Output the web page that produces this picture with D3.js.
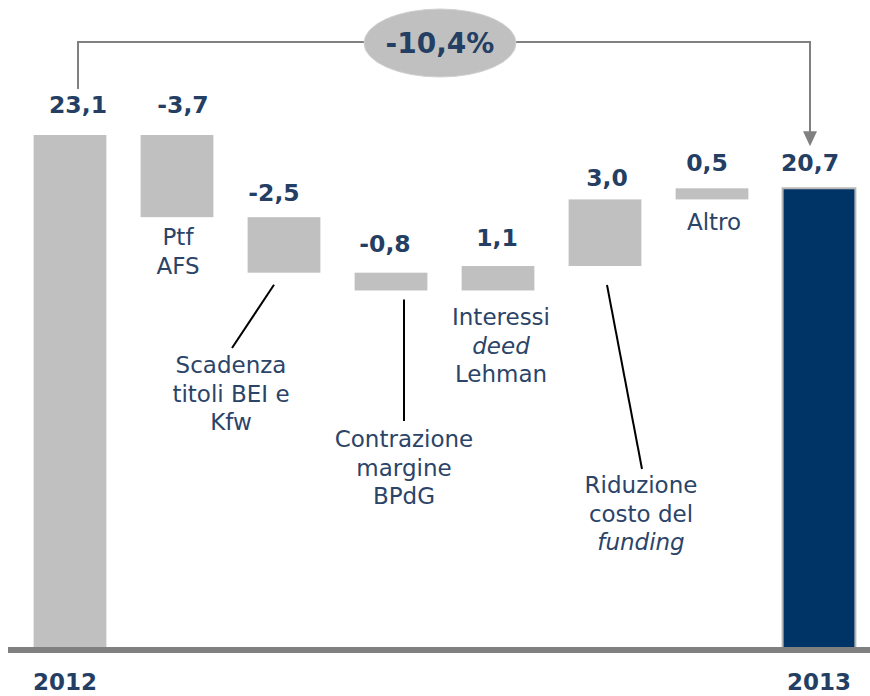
<!DOCTYPE html>
<html>
<head>
<meta charset="utf-8">
<script src="https://cdn.jsdelivr.net/npm/d3@7"></script>
<style>
  html, body { margin: 0; padding: 0; background: #fff; }
  svg { display: block; }
  text { font-family: "DejaVu Sans", Verdana, sans-serif; }
</style>
</head>
<body>
<svg id="chart" width="870" height="696"></svg>
<script>
// ---- data ----
const categories = ["2012", "Ptf AFS", "Scadenza titoli BEI e Kfw", "Contrazione margine BPdG",
                    "Interessi deed Lehman", "Riduzione costo del funding", "Altro", "2013"];
const deltas = [23.1, -3.7, -2.5, -0.8, 1.1, 3.0, 0.5, 20.7];
const kinds = ["total", "delta", "delta", "delta", "delta", "delta", "delta", "total"];
const valueLabels = ["23,1", "-3,7", "-2,5", "-0,8", "1,1", "3,0", "0,5", "20,7"];
const changeLabel = "-10,4%";
// category label lines: [text, italic]
const catLines = [
  [],
  [["Ptf", false], ["AFS", false]],
  [["Scadenza", false], ["titoli BEI e", false], ["Kfw", false]],
  [["Contrazione", false], ["margine", false], ["BPdG", false]],
  [["Interessi", false], ["deed", true], ["Lehman", false]],
  [["Riduzione", false], ["costo del", false], ["funding", true]],
  [["Altro", false]],
  []
];

// ---- compute waterfall ----
let run = 0;
const bars = deltas.map((d, i) => {
  let y0, y1;
  if (kinds[i] === "total") { y0 = 0; y1 = d; run = d; }
  else { y0 = run; y1 = run + d; run = y1; }
  return { i, lo: Math.min(y0, y1), hi: Math.max(y0, y1), kind: kinds[i] };
});

const svg = d3.select("#chart");
const W = 870, H = 696;

const x = d3.scaleBand().domain(d3.range(categories.length))
  .range([16.5, 872.5]).paddingInner(0.32).paddingOuter(0.16);
const y = d3.scaleLinear().domain([0, 23.1]).range([648, 135]);

const navy = "#243f63";
const grey = "#c0c0c0";

// bars
svg.append("g").selectAll("rect").data(bars).join("rect")
  .attr("x", d => x(d.i))
  .attr("width", x.bandwidth())
  .attr("y", d => y(d.hi))
  .attr("height", d => y(d.lo) - y(d.hi))
  .attr("fill", d => d.i === categories.length - 1 ? "#003366" : grey)
  .attr("stroke", d => d.i === categories.length - 1 ? "#b5b5b5" : "none")
  .attr("stroke-width", 2);

// baseline
svg.append("rect").attr("x", 8).attr("y", y(0) - 1).attr("width", W - 8).attr("height", 6).attr("fill", "#808080");

// value labels (offsets relative to bar center / top)
const labelDx = [8, 6, -10, -6, -1, 2, -5, -9];
const labelGap = [22, 22, 16, 21, 20, 13, 17, 17];
svg.append("g").selectAll("text").data(bars).join("text")
  .attr("x", d => x(d.i) + x.bandwidth() / 2 + labelDx[d.i])
  .attr("y", d => (d.i === 1 ? y(bars[0].hi) : y(d.hi)) - labelGap[d.i])
  .attr("text-anchor", "middle")
  .attr("font-weight", "bold")
  .attr("font-size", 23.5)
  .attr("fill", navy)
  .text(d => valueLabels[d.i]);

// year labels
[0, categories.length - 1].forEach(i => {
  svg.append("text")
    .attr("x", x(i) + x.bandwidth() / 2 - (i === 0 ? 5 : 0))
    .attr("y", 690)
    .attr("text-anchor", "middle")
    .attr("font-weight", "bold")
    .attr("font-size", 23)
    .attr("fill", navy)
    .text(categories[i]);
});

// category labels: anchor (dx from band center, first baseline)
const catPos = [null, [1, 245], [-53, 373], [13, 447], [3, 325], [36, 493], [2, 230], null];
catLines.forEach((lines, i) => {
  if (!lines.length) return;
  const cx = x(i) + x.bandwidth() / 2 + catPos[i][0];
  const t = svg.append("text")
    .attr("text-anchor", "middle")
    .attr("font-size", 23)
    .attr("fill", "#2b4468");
  lines.forEach((ln, k) => {
    t.append("tspan")
      .attr("x", cx)
      .attr("y", catPos[i][1] + k * 28.5)
      .attr("font-style", ln[1] ? "italic" : "normal")
      .text(ln[0]);
  });
});

// leader lines
const cxOf = i => x(i) + x.bandwidth() / 2;
const leaders = [
  [cxOf(2) - 10, y(bars[2].lo) + 12, cxOf(2) - 52, 348],
  [cxOf(3) + 13, y(bars[3].lo) + 9, cxOf(3) + 13, 421],
  [cxOf(5) + 2, y(bars[5].lo) + 19, cxOf(5) + 37, 469]
];
svg.append("g").selectAll("line").data(leaders).join("line")
  .attr("x1", d => d[0]).attr("y1", d => d[1])
  .attr("x2", d => d[2]).attr("y2", d => d[3])
  .attr("stroke", "#000").attr("stroke-width", 2);

// bracket with arrow
const bx0 = cxOf(0) + 8, bx1 = cxOf(categories.length - 1) - 9, by = 42;
const tipY = y(bars[categories.length - 1].hi) - 42;
svg.append("path")
  .attr("d", `M${bx0},89 V${by} H${bx1} V${tipY - 12}`)
  .attr("fill", "none").attr("stroke", "#808080").attr("stroke-width", 2);
svg.append("path")
  .attr("d", `M${bx1 - 7},${tipY - 15} L${bx1 + 7},${tipY - 15} L${bx1},${tipY} Z`)
  .attr("fill", "#808080");

// ellipse with change
svg.append("ellipse").attr("cx", 440).attr("cy", 43).attr("rx", 76).attr("ry", 34)
  .attr("fill", grey).attr("stroke", "#d0d0d0").attr("stroke-width", 1);
svg.append("text").attr("x", 440).attr("y", 53).attr("text-anchor", "middle")
  .attr("font-weight", "bold").attr("font-size", 28).attr("fill", navy)
  .text(changeLabel);
</script>
</body>
</html>
